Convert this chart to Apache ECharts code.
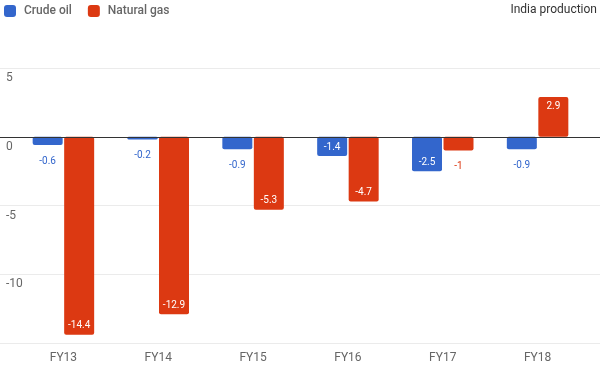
<!DOCTYPE html>
<html><head><meta charset="utf-8">
<script src="https://cdn.jsdelivr.net/npm/echarts@6/dist/echarts.min.js"></script>
<style>html,body{margin:0;padding:0;background:#fff}#c{width:600px;height:371px}</style>
</head><body><div id="c"></div>
<script>
var categories = ['FY13','FY14','FY15','FY16','FY17','FY18'];
var crudeOil = [-0.6, -0.2, -0.9, -1.4, -2.5, -0.9];
var naturalGas = [-14.4, -12.9, -5.3, -4.7, -1, 2.9];
var seriesNames = ['Crude oil', 'Natural gas'];
var titleText = 'India production';
var yMin = -15, yMax = 5, yStep = 5;

var BLUE = '#3366cc', RED = '#dc3912';
var PXPERUNIT = 275 / (yMax - yMin);

function labelFor(v, color) {
  var len = Math.abs(v) * PXPERUNIT;
  var inside = len > 16;
  if (v >= 0) {
    return inside ? {show:true, position:'insideTop', distance:5, color:'#fff'} :
                    {show:true, position:'top', distance:5, color:color};
  }
  return inside ? {show:true, position:'insideBottom', distance:4, color:'#fff'} :
                  {show:true, position:'bottom', distance:11, color:color};
}
function mk(arr, color) {
  return arr.map(function(v){ return {value:v, label: labelFor(v, color)}; });
}

var chart = echarts.init(document.getElementById('c'), null, {renderer:'canvas'});
chart.setOption({
  animation:false,
  textStyle:{fontFamily:'Roboto'},
  title:{text:titleText, right:3, top:4, padding:0, textStyle:{fontSize:12, fontWeight:'normal', color:'#333', fontFamily:'Roboto'}},
  legend:{left:4, top:5, padding:0, itemWidth:12, itemHeight:12, itemGap:16, icon:'roundRect',
    textStyle:{fontSize:12, fontWeight:500, color:'#666', fontFamily:'Roboto', padding:[0,0,0,3]},
    data: seriesNames},
  grid:[
    {left:0, right:0, top:68, bottom:28, containLabel:false},
    {left:16, right:15, top:68, bottom:28, containLabel:false}
  ],
  xAxis:[
    {gridIndex:0, type:'category', data:categories, axisLabel:{show:false}, axisTick:{show:false},
     axisLine:{show:true, onZero:true, lineStyle:{color:'#333', width:1}}, z:10},
    {gridIndex:1, type:'category', data:categories, axisTick:{show:false}, axisLine:{show:false},
     axisLabel:{color:'#666', fontSize:12, margin:9, fontFamily:'Roboto'}}
  ],
  yAxis:[
    {gridIndex:0, type:'value', min:yMin, max:yMax, interval:yStep,
     axisLine:{show:false}, axisTick:{show:false},
     splitLine:{lineStyle:{color:'#ebebeb'}},
     axisLabel:{inside:true, margin:6, verticalAlign:'top', padding:[4,0,0,0], color:'#666', fontSize:12,
       showMinLabel:false, fontFamily:'Roboto'}},
    {gridIndex:1, type:'value', min:yMin, max:yMax, interval:yStep, show:false}
  ],
  series:[
    {name:seriesNames[0], type:'bar', xAxisIndex:1, yAxisIndex:1, data:mk(crudeOil, BLUE),
     barWidth:30, barGap:'5%', itemStyle:{color:BLUE, borderRadius:2},
     label:{fontSize:10, fontFamily:'Roboto'}},
    {name:seriesNames[1], type:'bar', xAxisIndex:1, yAxisIndex:1, data:mk(naturalGas, RED),
     barWidth:30, barGap:'5%', itemStyle:{color:RED, borderRadius:2},
     label:{fontSize:10, fontFamily:'Roboto'}}
  ]
});
</script></body></html>
